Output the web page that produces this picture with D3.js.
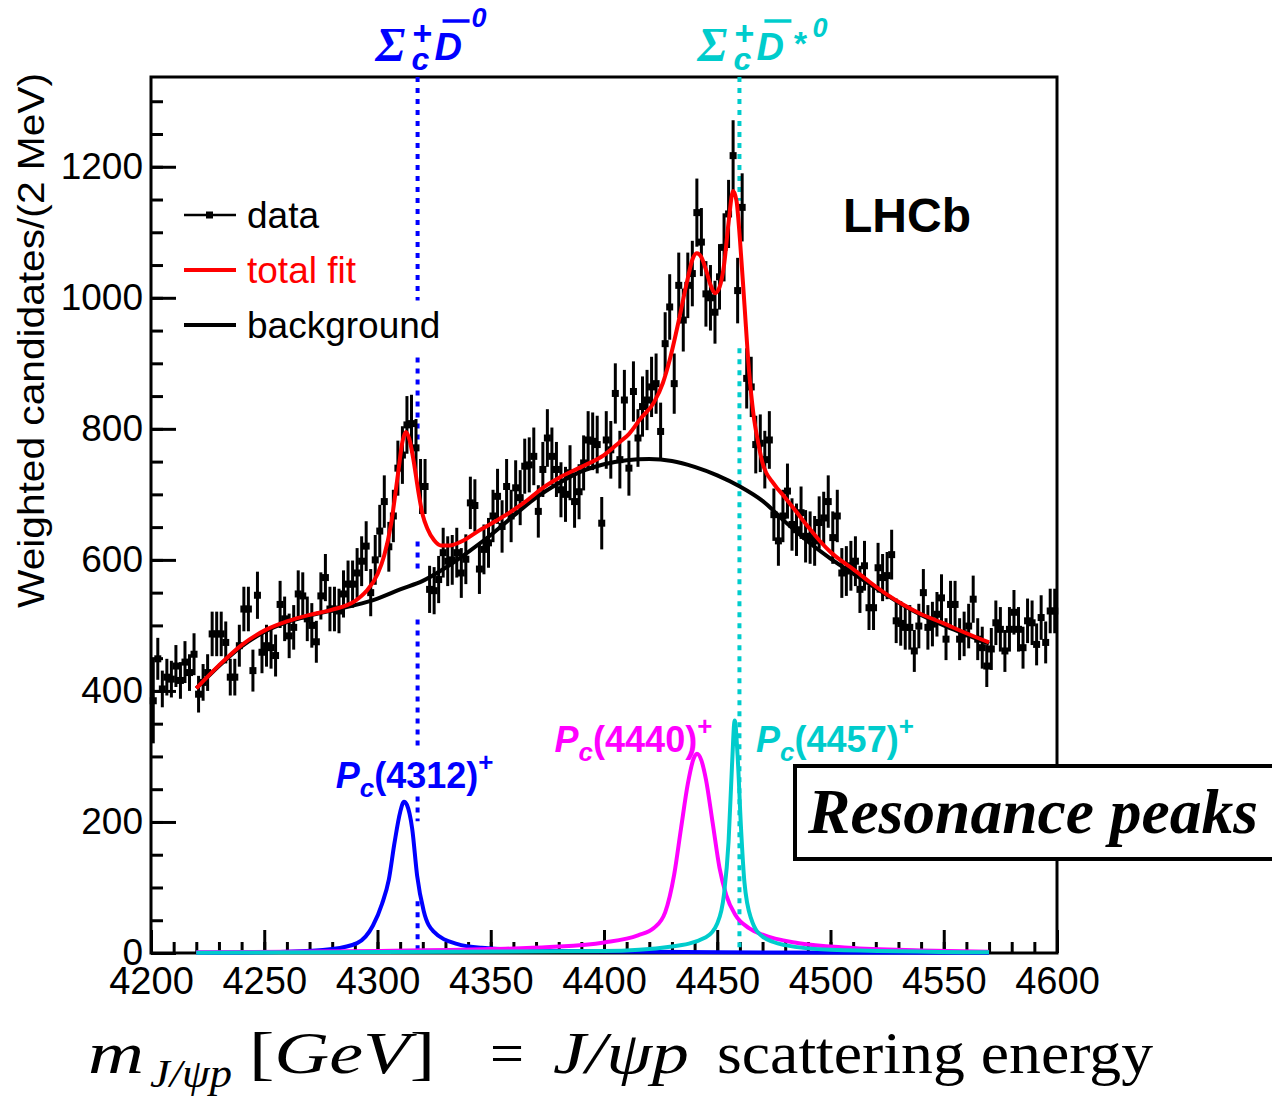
<!DOCTYPE html>
<html>
<head>
<meta charset="utf-8">
<script src="https://cdn.jsdelivr.net/npm/d3@7"></script>
<style>
  body { margin: 0; background: #fff; }
</style>
</head>
<body>
<svg id="chart" width="1272" height="1099" font-family="'Liberation Sans', Arial, sans-serif"></svg>
<script>
// weighted J/psi p candidates, 2 MeV bins from 4200 to 4600
const massMin = 4200
const binWidth = 2

const counts = [
  385, 449, 403, 421, 418, 438, 416, 444, 428, 456,
  395, 413, 428, 487, 487, 487, 474, 421, 421, 469,
  525, 525, 431, 546, 459, 469, 466, 454, 532, 510,
  484, 497, 548, 545, 510, 500, 475, 545, 573, 525,
  525, 522, 548, 563, 563, 580, 598, 621, 550, 600,
  644, 689, 620, 667, 740, 760, 806, 808, 771, 712,
  712, 555, 553, 570, 611, 598, 600, 611, 580, 601,
  687, 683, 586, 616, 626, 667, 697, 651, 712, 667,
  710, 695, 743, 745, 758, 674, 738, 786, 758, 738,
  707, 700, 733, 689, 704, 748, 783, 781, 776, 656,
  783, 768, 854, 753, 844, 740, 857, 786, 834, 844,
  864, 869, 796, 930, 986, 869, 1019, 966, 1019, 1037,
  1130, 1085, 1006, 1000, 978, 1032, 1077, 1128, 1217, 1011,
  1138, 877, 864, 776, 778, 753, 783, 669, 629, 667,
  705, 654, 646, 672, 636, 634, 629, 657, 664, 689,
  634, 667, 580, 583, 591, 598, 555, 591, 527, 527,
  588, 573, 576, 608, 507, 503, 497, 497, 461, 499,
  550, 497, 502, 517, 542, 479, 532, 532, 479, 487,
  499, 540, 479, 466, 438, 464, 504, 494, 461, 494,
  520, 494, 466, 507, 504, 471, 512, 474, 522, 522
]

const errors = [
  65, 32, 28, 28, 28, 32, 28, 32, 28, 32,
  28, 28, 28, 34, 34, 34, 32, 28, 28, 32,
  34, 34, 32, 36, 32, 32, 32, 32, 36, 34,
  34, 34, 36, 36, 34, 34, 32, 36, 36, 34,
  34, 34, 36, 36, 36, 38, 38, 38, 36, 38,
  40, 40, 38, 40, 42, 44, 44, 44, 44, 42,
  42, 36, 36, 36, 38, 38, 38, 38, 38, 38,
  40, 40, 38, 38, 38, 40, 42, 40, 42, 40,
  42, 42, 42, 42, 44, 40, 42, 44, 44, 42,
  42, 42, 42, 40, 42, 42, 44, 44, 44, 40,
  44, 44, 46, 44, 46, 42, 46, 44, 46, 46,
  46, 46, 44, 48, 50, 46, 50, 48, 50, 50,
  52, 52, 50, 50, 48, 50, 52, 52, 54, 50,
  52, 46, 46, 44, 44, 44, 44, 40, 38, 40,
  42, 40, 40, 40, 40, 40, 38, 40, 40, 40,
  40, 40, 38, 38, 38, 38, 36, 38, 34, 34,
  38, 36, 36, 38, 34, 34, 34, 34, 32, 34,
  36, 34, 34, 34, 36, 32, 36, 36, 32, 34,
  34, 36, 32, 32, 32, 32, 34, 34, 32, 34,
  34, 34, 32, 34, 34, 32, 34, 32, 34, 34
]

const xTicks = [4200, 4250, 4300, 4350, 4400, 4450, 4500, 4550, 4600]
const yTicks = [0, 200, 400, 600, 800, 1000, 1200]

// fit curves, [mass, candidates]
const totalFit = [
  [4220, 404], [4230, 439], [4240, 470], [4250, 492], [4260, 506], [4270, 516],
  [4280, 524], [4290, 537], [4295, 552], [4300, 578], [4303, 607], [4306, 655],
  [4309, 730], [4311, 780], [4312.5, 795], [4314, 785], [4316, 750], [4318, 705],
  [4320, 668], [4322, 648], [4325, 630], [4328, 622], [4332, 622], [4337, 628],
  [4345, 645], [4355, 665], [4365, 688], [4373, 710], [4380, 725], [4390, 742],
  [4400, 760], [4407, 780], [4411, 792], [4416, 815], [4422, 840], [4426, 870],
  [4429, 905], [4433, 965], [4437, 1030], [4439, 1058], [4441, 1068], [4443, 1062],
  [4445, 1043], [4447, 1020], [4449, 1007], [4451, 1016], [4453, 1050], [4455, 1115],
  [4457, 1163], [4458.5, 1148], [4460, 1090], [4462, 990], [4464, 890], [4466, 822],
  [4468, 780], [4470, 748], [4475, 716], [4480, 695], [4485, 673], [4490, 651],
  [4495, 630], [4500, 612], [4505, 598], [4510, 586], [4517, 567], [4525, 547],
  [4532, 532], [4539, 519], [4550, 503], [4560, 488], [4570, 474]
]

const background = [
  [4220, 404], [4230, 438], [4240, 468], [4250, 490], [4260, 505], [4270, 515],
  [4280, 523], [4290, 531], [4300, 541], [4310, 555], [4320, 568], [4330, 588],
  [4340, 612], [4350, 638], [4360, 667], [4370, 695], [4380, 717], [4390, 735],
  [4400, 746], [4410, 752], [4420, 754], [4430, 751], [4440, 742], [4450, 729],
  [4460, 712], [4470, 690], [4480, 658], [4490, 628], [4500, 602], [4510, 579],
  [4520, 557], [4530, 535], [4540, 516], [4550, 500], [4560, 486], [4570, 472]
]

const pc4312 = [
  [4220, 0.5], [4260, 2], [4280, 6], [4291, 15], [4298, 42], [4302, 75],
  [4305, 112], [4307.5, 168], [4310, 215], [4311.7, 231], [4313, 226], [4315.3, 190],
  [4317.5, 118], [4320.4, 64], [4324.7, 33], [4335, 14], [4346, 8], [4380, 3],
  [4450, 1], [4570, 0.5]
]

const pc4440 = [
  [4220, 1], [4300, 3], [4350, 6], [4376, 9], [4400, 16], [4415, 27],
  [4422, 38], [4427, 62], [4431, 120], [4434, 190], [4437, 258], [4439.5, 296],
  [4441, 304], [4443, 294], [4445, 265], [4448, 198], [4451, 130], [4454, 88],
  [4458, 58], [4464, 38], [4470, 28], [4486, 15], [4508, 8], [4540, 4], [4570, 2]
]

const pc4457 = [
  [4220, 0.3], [4400, 3], [4430, 10], [4445, 24], [4450, 45], [4453, 90],
  [4455, 170], [4456.5, 285], [4457.7, 355], [4459, 300], [4460.5, 190], [4462, 108],
  [4465, 52], [4470, 25], [4480, 12], [4500, 5], [4570, 1]
]

const blue = '#0000ff'
const magenta = '#ff00ff'
const cyan = '#00cccc'

// Sigma_c D thresholds, dotted where visible (candidate ranges)
const thresholds = [
  { mass: 4317.7, color: blue, star: false,
    visible: [[1337, 996], [909, 780], [628, 585], [509, 312], [239, 201], [79, 0]] },
  { mass: 4459.8, color: cyan, star: true,
    visible: [[1337, 1148], [923, 0]] }
]

const peaks = [
  { name: '4312', curve: pc4312, color: blue, mass: 4312, dx: -69, level: 252 },
  { name: '4440', curve: pc4440, color: magenta, mass: 4440, dx: -140, level: 307 },
  { name: '4457', curve: pc4457, color: cyan, mass: 4457, dx: 23, level: 307 }
]

const legendItems = [
  { label: 'data', color: 'black', kind: 'data' },
  { label: 'total fit', color: '#ff0000', kind: 'line' },
  { label: 'background', color: 'black', kind: 'line' }
]

const sans = "'Liberation Sans', Arial, sans-serif"
const serif = "'Liberation Serif', 'Times New Roman', serif"

const svg = d3.select('#chart')
svg.append('rect').attr('width', 1272).attr('height', 1099).attr('fill', 'white')

const x = d3.scaleLinear().domain([4200, 4600]).range([151, 1057])
const y = d3.scaleLinear().domain([0, 1337]).range([953, 77])

// frame
svg.append('rect')
  .attr('x', x(4200)).attr('y', y(1337))
  .attr('width', x(4600) - x(4200)).attr('height', y(0) - y(1337))
  .attr('fill', 'none').attr('stroke', 'black').attr('stroke-width', 3)

function styleAxis(g, size) {
  g.select('.domain').remove()
  g.attr('font-size', size).attr('font-family', sans)
  g.selectAll('line').attr('stroke', 'black').attr('stroke-width', 3)
  g.selectAll('text').attr('fill', 'black')
}

svg.append('g').attr('transform', `translate(0,${y(0)})`)
  .call(d3.axisBottom(x).tickValues(d3.range(4200, 4601, 10)).tickSize(-11).tickFormat(''))
  .call(g => styleAxis(g, 38))
svg.append('g').attr('transform', `translate(0,${y(0)})`)
  .call(d3.axisBottom(x).tickValues(xTicks).tickSize(-23).tickPadding(14).tickFormat(d3.format('d')))
  .call(g => styleAxis(g, 38))

svg.append('g').attr('transform', `translate(${x(4200)},0)`)
  .call(d3.axisLeft(y).tickValues(d3.range(0, 1337, 50)).tickSize(-12).tickFormat(''))
  .call(g => styleAxis(g, 37))
svg.append('g').attr('transform', `translate(${x(4200)},0)`)
  .call(d3.axisLeft(y).tickValues(yTicks).tickSize(-25).tickPadding(8).tickFormat(d3.format('d')))
  .call(g => styleAxis(g, 37))

// threshold lines
thresholds.forEach(t => {
  svg.append('g').selectAll('line').data(t.visible).join('line')
    .attr('x1', x(t.mass)).attr('x2', x(t.mass))
    .attr('y1', d => y(d[0])).attr('y2', d => y(d[1]))
    .attr('stroke', t.color).attr('stroke-width', 4).attr('stroke-dasharray', '5 6')
})

// data points
const points = counts.map((c, i) => ({ mass: massMin + binWidth * (i + 0.5), value: c, err: errors[i] }))
const dataG = svg.append('g')
dataG.selectAll('line').data(points).join('line')
  .attr('x1', d => x(d.mass)).attr('x2', d => x(d.mass))
  .attr('y1', d => y(d.value - d.err)).attr('y2', d => y(d.value + d.err))
  .attr('stroke', 'black').attr('stroke-width', 3)
dataG.selectAll('rect').data(points).join('rect')
  .attr('x', d => x(d.mass) - 3.5).attr('y', d => y(d.value) - 3.5)
  .attr('width', 7).attr('height', 7).attr('fill', 'black')

const line = d3.line().x(d => x(d[0])).y(d => y(d[1])).curve(d3.curveMonotoneX)

peaks.forEach(p => {
  svg.append('path').attr('d', line(p.curve))
    .attr('fill', 'none').attr('stroke', p.color).attr('stroke-width', 4)
})
svg.append('path').attr('d', line(background))
  .attr('fill', 'none').attr('stroke', 'black').attr('stroke-width', 4)
svg.append('path').attr('d', line(totalFit))
  .attr('fill', 'none').attr('stroke', '#ff0000').attr('stroke-width', 4)

// peak labels
peaks.forEach(p => {
  svg.append('text')
    .attr('x', x(p.mass) + p.dx).attr('y', y(p.level))
    .attr('fill', p.color).attr('font-weight', 'bold').attr('font-family', sans)
    .call(t => {
      t.append('tspan').attr('font-style', 'italic').attr('font-size', 36).text('P')
      t.append('tspan').attr('font-style', 'italic').attr('font-size', 26).attr('dy', 9).text('c')
      t.append('tspan').attr('font-size', 36).attr('dy', -9).text(`(${p.name})`)
      t.append('tspan').attr('font-size', 26).attr('dy', -17).text('+')
    })
})

// threshold labels above the frame
thresholds.forEach(t => {
  const ax = x(t.mass)
  const g = svg.append('g').attr('fill', t.color).attr('font-family', sans)
  g.append('text').attr('x', ax - 42).attr('y', 61)
    .attr('font-family', serif).attr('font-style', 'italic').attr('font-weight', 'bold')
    .attr('font-size', 48).text('Σ')
  g.append('text').attr('x', ax - 5).attr('y', 45)
    .attr('font-weight', 'bold').attr('font-size', 34).text('+')
  g.append('text').attr('x', ax - 6).attr('y', 70)
    .attr('font-weight', 'bold').attr('font-style', 'italic').attr('font-size', 32).text('c')
  g.append('text').attr('x', ax + 17).attr('y', 60)
    .attr('font-weight', 'bold').attr('font-style', 'italic').attr('font-size', 38).text('D')
  g.append('line').attr('x1', ax + 25).attr('x2', ax + 52).attr('y1', 21).attr('y2', 21)
    .attr('stroke', t.color).attr('stroke-width', 3.5)
  if (t.star) {
    g.append('text').attr('x', ax + 53).attr('y', 55)
      .attr('font-weight', 'bold').attr('font-style', 'italic').attr('font-size', 34).text('*')
  }
  g.append('text').attr('x', ax + (t.star ? 73 : 54)).attr('y', t.star ? 37 : 27)
    .attr('font-weight', 'bold').attr('font-style', 'italic').attr('font-size', 27).text('0')
})

// legend
const legend = svg.append('g').selectAll('g').data(legendItems).join('g')
  .attr('transform', (d, i) => `translate(184,${215 + i * 55})`)
legend.append('line').attr('x1', 0).attr('x2', 52)
  .attr('stroke', d => d.color).attr('stroke-width', d => d.kind === 'data' ? 2.5 : 4)
legend.filter(d => d.kind === 'data').append('rect')
  .attr('x', 22).attr('y', -3.5).attr('width', 7).attr('height', 7).attr('fill', 'black')
legend.append('text').attr('x', 63).attr('y', 12.5)
  .attr('font-size', 37).attr('fill', d => d.color).text(d => d.label)

svg.append('text').attr('x', 843).attr('y', 232)
  .attr('font-size', 48).attr('font-weight', 'bold').text('LHCb')

// resonance box
svg.append('rect').attr('x', 795).attr('y', 766).attr('width', 500).attr('height', 93)
  .attr('fill', 'white').attr('stroke', 'black').attr('stroke-width', 4)
svg.append('text').attr('x', 808).attr('y', 833)
  .attr('font-family', serif).attr('font-style', 'italic').attr('font-weight', 'bold')
  .attr('font-size', 63).attr('textLength', 450).attr('lengthAdjust', 'spacingAndGlyphs')
  .text('Resonance peaks')

// axis titles
svg.append('text').attr('transform', 'translate(44,608) rotate(-90)')
  .attr('font-size', 37).attr('textLength', 535).attr('lengthAdjust', 'spacingAndGlyphs')
  .text('Weighted candidates/(2 MeV)')

const title = svg.append('g').attr('font-family', serif).attr('fill', 'black')
function titlePart(px, py, size, len, italic, txt) {
  return title.append('text').attr('x', px).attr('y', py)
    .attr('font-family', serif).attr('font-size', size)
    .attr('font-style', italic ? 'italic' : 'normal')
    .attr('textLength', len).attr('lengthAdjust', 'spacingAndGlyphs')
    .text(txt)
}
titlePart(88, 1073, 60, 56, true, 'm')
titlePart(150, 1087, 40, 82, true, 'J/ψp')
titlePart(249, 1073, 60, 186, false, '')
  .call(t => {
    t.append('tspan').text('[')
    t.append('tspan').attr('font-style', 'italic').text('GeV')
    t.append('tspan').text(']')
  })
titlePart(490, 1073, 60, 34, false, '=')
titlePart(553, 1073, 60, 136, true, 'J/ψp')
titlePart(717, 1073, 60, 436, false, 'scattering energy')
</script>
</body>
</html>
